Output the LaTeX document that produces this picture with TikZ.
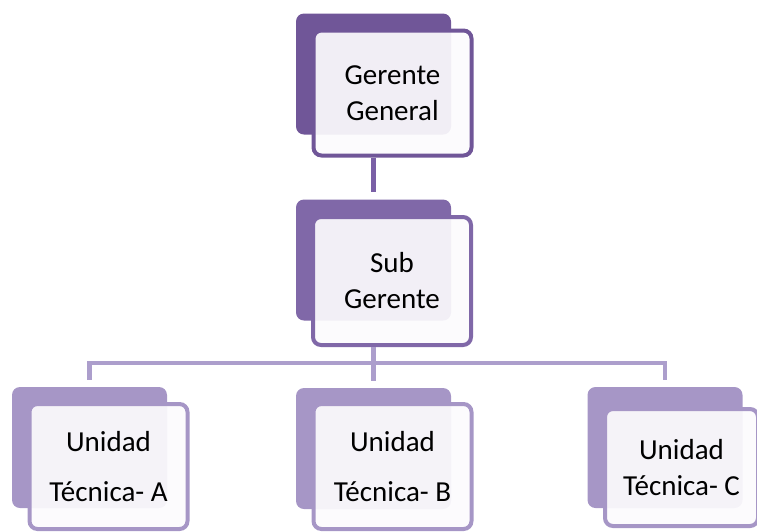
\documentclass[tikz,border=0pt]{standalone}
\usepackage{fontspec}
\setmainfont{Carlito}
\usepackage{tikz}
\usetikzlibrary{positioning}
\definecolor{lvlone}{RGB}{112,86,152}
\definecolor{lvltwo}{RGB}{128,104,168}
\definecolor{lvlthree}{RGB}{166,150,198}
\definecolor{linkone}{RGB}{122,96,166}
\definecolor{linktwo}{RGB}{172,158,204}
\definecolor{paper}{RGB}{252,251,253}
\tikzset{backbox/.style = {fill=#1, rounded corners=8pt, minimum width=155pt,
                           minimum height=121pt, inner sep=0}}
\tikzset{frontbox/.style = {draw=#1, line width=4pt, fill=paper, fill opacity=0.92,
                            text opacity=1, rounded corners=8pt, minimum width=158pt,
                            minimum height=125pt, align=center,
                            font=\fontsize{29}{36}\selectfont}}
\tikzset{link/.style = {draw=#1, line width=4.5pt}}
\begin{document}
\begin{tikzpicture}[x=1pt, y=-1pt]
          \useasboundingbox (0, 0) rectangle (757, 531);
          % gerente general
          \node (gb) at (373.5, 74) [backbox=lvlone] {};
          \node (gf) at (392.5, 93) [frontbox=lvlone] {Gerente\\General};
          % sub gerente
          \node (sb) at (373.5, 260) [backbox=lvltwo] {};
          \node (sf) at (392, 281) [frontbox=lvltwo, minimum height=128pt] {Sub\\Gerente};
          % unidades
          \node (ab) at (89.5, 447.5) [backbox=lvlthree] {};
          \node (af) at (108.5, 466.5) [frontbox=lvlthree] {Unidad\\[14pt]Técnica- A};
          \node (bb) at (373.5, 448.5) [backbox=lvlthree] {};
          \node (bf) at (392.5, 466.5) [frontbox=lvlthree] {Unidad\\[14pt]Técnica- B};
          \node (cb) at (665, 447.5) [backbox=lvlthree] {};
          \node (cf) at (681.5, 467.5) [frontbox=lvlthree, minimum width=153pt,
                                        minimum height=117pt] {Unidad\\Técnica- C};
          % lineas
          \coordinate (split) at (373.5, 363);
          \draw [link=linkone] (gb.center |- gf.south) -- ([yshift=7pt]sb.north);
          \draw [link=linktwo] (sb.center |- sf.south) -- (split);
          \draw [link=linktwo] ([yshift=7pt]ab.north) -- (ab.north |- split)
                               -- (cb.north |- split) -- ([yshift=7pt]cb.north);
          \draw [link=linktwo] (split) -- ([yshift=7pt]bb.north);
        \end{tikzpicture}
\end{document}
